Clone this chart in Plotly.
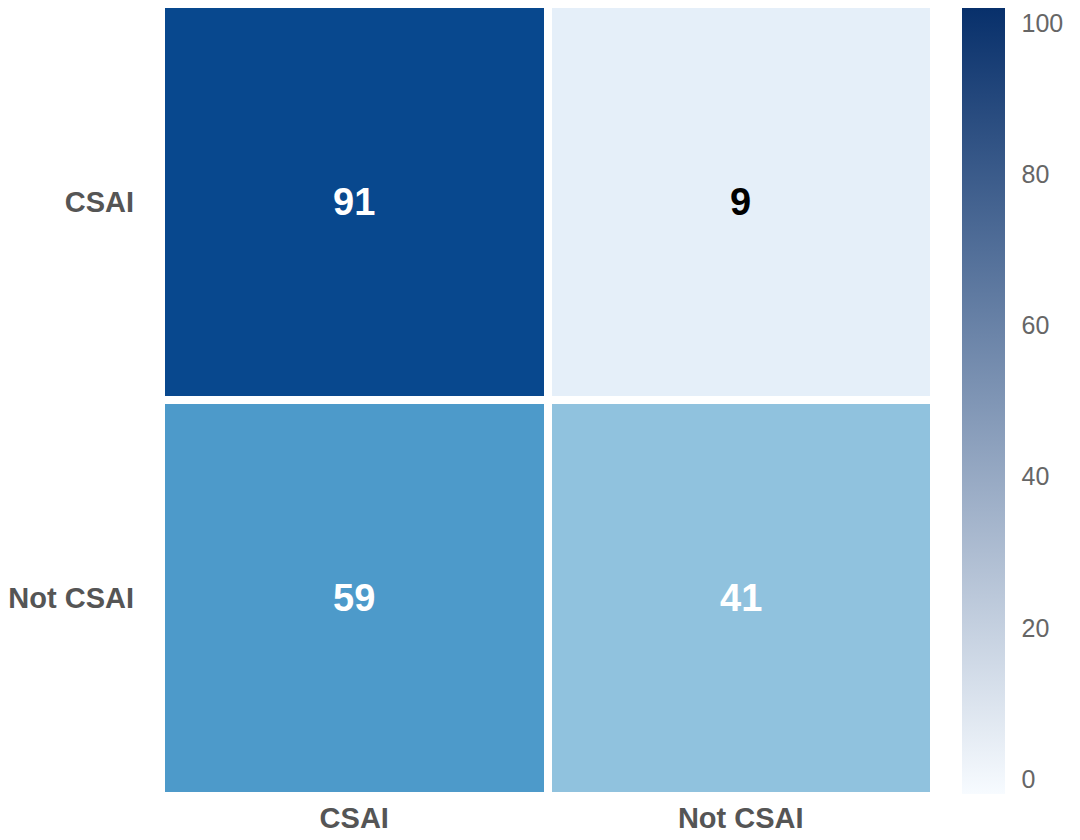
import plotly.graph_objects as go

x_labels = ["CSAI", "Not CSAI"]
y_labels = ["CSAI", "Not CSAI"]
values = [[91, 9], [59, 41]]
cbar_ticks = [0, 20, 40, 60, 80, 100]

blues = ["#f7fbff", "#deebf7", "#c6dbef", "#9ecae1", "#6baed6",
         "#4292c6", "#2171b5", "#08519c", "#08306b"]
blues_scale = [[i / (len(blues) - 1), c] for i, c in enumerate(blues)]

fig = go.Figure()
fig.add_trace(go.Heatmap(
    z=values, x=x_labels, y=y_labels,
    zmin=0, zmax=100, colorscale=blues_scale, showscale=False,
    xgap=8, ygap=8, hoverinfo="skip",
))

# colorbar (linear white -> navy)
fig.add_trace(go.Scatter(
    x=[x_labels[0]], y=[y_labels[0]], mode="markers",
    marker=dict(color=[0], cmin=-2, cmax=102, opacity=0, size=1,
                colorscale=[[0, "#f7fbff"], [1, "#08306b"]],
                showscale=True,
                colorbar=dict(
                    x=1.036, xanchor="left", xref="paper",
                    y=0.4987, yanchor="middle", len=0.992, lenmode="fraction",
                    xpad=0, ypad=0,
                    thickness=43, outlinewidth=0,
                    tickvals=cbar_ticks, ticks="outside", ticklen=12,
                    tickcolor="rgba(0,0,0,0)",
                    tickfont=dict(family="Liberation Sans, Arial", size=25, color="#666666"),
                )),
    hoverinfo="skip", showlegend=False,
))

for i, row in enumerate(values):
    for j, v in enumerate(row):
        fig.add_annotation(
            x=x_labels[j], y=y_labels[i], text=f"<b>{v}</b>", showarrow=False,
            font=dict(family="Liberation Sans, Arial", size=38,
                      color="white" if v > 30 else "black"),
        )

fig.update_layout(
    width=1080, height=840,
    margin=dict(l=161, r=146, t=4, b=44, autoexpand=False),
    plot_bgcolor="white", paper_bgcolor="white",
    showlegend=False,
    font=dict(family="Liberation Sans, Arial"),
)
fig.update_xaxes(showgrid=False, zeroline=False, showline=False, ticks="",
                 automargin=False,
                 tickfont=dict(size=29, color="#555555", weight="bold"),
                 ticklabelstandoff=2)
fig.update_yaxes(showgrid=False, zeroline=False, showline=False, ticks="",
                 automargin=False, autorange="reversed",
                 tickfont=dict(size=29, color="#555555", weight="bold"),
                 ticklabelstandoff=26)

fig.write_html("out.html", config={"displayModeBar": False},
               post_script="document.body.style.margin='0';")
